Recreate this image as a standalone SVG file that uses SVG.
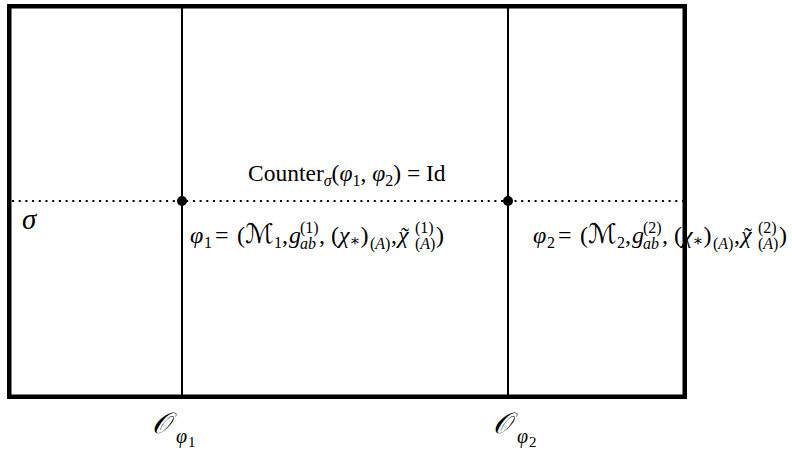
<svg xmlns="http://www.w3.org/2000/svg" width="792" height="453" viewBox="0 0 792 453">
<style>
text{font-family:"Liberation Serif","DejaVu Serif","DejaVu Sans",serif;fill:#000;font-size:24px}
.i{font-style:italic}
.s{font-size:16px}
.sc{font-family:"DejaVu Serif","DejaVu Sans","Noto Sans",serif;font-style:italic}
.ln{stroke:#000;stroke-width:2;fill:none}
.dot{stroke:#000;stroke-width:2;stroke-dasharray:2 4.7;fill:none}
</style>
<rect width="792" height="453" fill="#fff"/>
<g id="connectors">
<line class="ln" x1="182" y1="6" x2="182" y2="396"/>
<line class="ln" x1="508" y1="6" x2="508" y2="396"/>
<line class="dot" x1="12" y1="201" x2="683" y2="201"/>
</g>
<g id="sigma-label"><text class="i" x="22" y="229" style="font-size:29px">σ</text></g>
<g id="counter-label">
<text x="248" y="181" style="font-size:23.5px">Counter<tspan class="s i" dy="5">σ</tspan><tspan dy="-5">(</tspan><tspan class="i">φ</tspan><tspan class="s" dy="5">1</tspan><tspan dy="-5">, </tspan><tspan class="i">φ</tspan><tspan class="s" dy="5">2</tspan><tspan dy="-5">) = Id</tspan></text>
</g>
<g id="point-phi1">
<circle cx="182" cy="201" r="5"/>
<text transform="translate(190,243)"><tspan class="i" x="0" y="0">φ</tspan><tspan class="s" x="14" y="5">1</tspan><tspan x="25" y="0">=</tspan><tspan x="47" y="0">(</tspan><tspan class="sc" x="55" y="0" style="font-size:27px">ℳ</tspan><tspan class="s" x="84" y="5">1</tspan><tspan x="92" y="0">,</tspan><tspan class="i" x="99" y="0">g</tspan><tspan class="s" x="110" y="-10">(1)</tspan><tspan class="s i" x="110" y="6">ab</tspan><tspan x="129" y="0">,</tspan><tspan x="141" y="0">(</tspan><tspan class="i">χ</tspan><tspan class="s" dy="3">∗</tspan><tspan dy="-3">)</tspan><tspan class="s" x="180" y="6">(<tspan class="i">A</tspan>)</tspan><tspan x="201" y="0">,</tspan><tspan class="i" x="208" y="0">χ</tspan><tspan x="211" y="1">˜</tspan><tspan class="s" x="225" y="-10">(1)</tspan><tspan class="s" x="225" y="6">(<tspan class="i">A</tspan>)</tspan><tspan x="246" y="0">)</tspan></text>
</g>
<g id="point-phi2">
<circle cx="508" cy="201" r="5"/>
<text transform="translate(533,243)"><tspan class="i" x="0" y="0">φ</tspan><tspan class="s" x="14" y="5">2</tspan><tspan x="25" y="0">=</tspan><tspan x="47" y="0">(</tspan><tspan class="sc" x="55" y="0" style="font-size:27px">ℳ</tspan><tspan class="s" x="84" y="5">2</tspan><tspan x="92" y="0">,</tspan><tspan class="i" x="99" y="0">g</tspan><tspan class="s" x="110" y="-10">(2)</tspan><tspan class="s i" x="110" y="6">ab</tspan><tspan x="129" y="0">,</tspan><tspan x="141" y="0">(</tspan><tspan class="i">χ</tspan><tspan class="s" dy="3">∗</tspan><tspan dy="-3">)</tspan><tspan class="s" x="180" y="6">(<tspan class="i">A</tspan>)</tspan><tspan x="201" y="0">,</tspan><tspan class="i" x="208" y="0">χ</tspan><tspan x="211" y="1">˜</tspan><tspan class="s" x="225" y="-10">(2)</tspan><tspan class="s" x="225" y="6">(<tspan class="i">A</tspan>)</tspan><tspan x="246" y="0">)</tspan></text>
</g>
<g id="label-O1">
<text x="152" y="433"><tspan class="sc" style="font-size:29px">𝒪</tspan><tspan class="i" x="176" y="443" style="font-size:20px">φ</tspan><tspan x="188" y="447" style="font-size:15px">1</tspan></text>
</g>
<g id="label-O2">
<text x="493" y="433"><tspan class="sc" style="font-size:29px">𝒪</tspan><tspan class="i" x="517" y="443" style="font-size:20px">φ</tspan><tspan x="529" y="447" style="font-size:15px">2</tspan></text>
</g>
<g id="frame">
<rect x="9.25" y="6.25" width="675.5" height="390.5" fill="none" stroke="#000" stroke-width="4.5"/>
</g>
</svg>
